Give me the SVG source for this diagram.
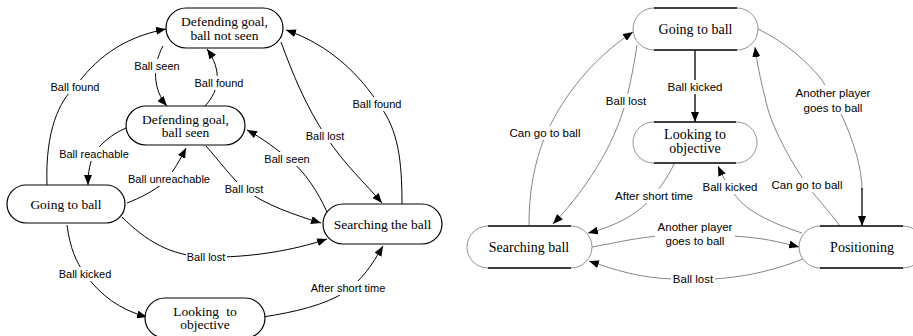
<svg xmlns="http://www.w3.org/2000/svg" width="913" height="336" viewBox="0 0 913 336">
<style>
.nodeL rect{fill:#fff;stroke:#000;stroke-width:1.2}
.nodeR rect{fill:#fff;stroke:#777;stroke-width:0.8}
.nodeR line{stroke:#111;stroke-width:1.3}
.tL{font-family:"Liberation Serif","Times New Roman",serif;font-size:13.5px;fill:#000;text-anchor:middle}
.tR{font-family:"Liberation Serif","Times New Roman",serif;font-size:14px;fill:#000;text-anchor:middle}
.cL{fill:none;stroke:#000;stroke-width:1}
.cR{fill:none;stroke:#666;stroke-width:0.8}
.cB{fill:none;stroke:#000;stroke-width:1.3}
.bg{fill:#fff;stroke:none}
.lL{font-family:"Liberation Sans",Arial,sans-serif;font-size:11px;fill:#000;text-anchor:middle}
.lR{font-family:"Liberation Sans",Arial,sans-serif;font-size:11.5px;fill:#000;text-anchor:middle}
</style>
<defs>
<marker id="arr" viewBox="0 0 10 8" refX="10" refY="4" markerWidth="10" markerHeight="8" markerUnits="userSpaceOnUse" orient="auto">
<path d="M0,0 L10,4 L0,8 z" fill="#000"/>
</marker>
</defs>
<rect width="913" height="336" fill="#fff"/>

<g id="connectors">
<!-- left diagram -->
<path class="cL" d="M47,185 C45,130 60,100 75,87 C95,60 120,38 166,29" marker-end="url(#arr)"/>
<path class="cL" d="M163,46 C152,66 153,90 167,106" marker-end="url(#arr)"/>
<path class="cL" d="M205,106 C220,90 222,70 207,49" marker-end="url(#arr)"/>
<path class="cL" d="M281,42 C292,72 305,105 327,138 C345,165 365,183 382,203" marker-end="url(#arr)"/>
<path class="cL" d="M402,204 C402,160 398,130 380,106 C360,75 330,45 286,30" marker-end="url(#arr)"/>
<path class="cL" d="M327,212 C318,192 305,172 290,160 C278,150 262,138 247,130" marker-end="url(#arr)"/>
<path class="cL" d="M206,146 C220,162 232,178 244,189 C265,205 295,215 321,223" marker-end="url(#arr)"/>
<path class="cL" d="M122,217 C145,240 170,256 206,257 C250,258 295,250 327,239" marker-end="url(#arr)"/>
<path class="cL" d="M67,225 C70,248 76,262 85,274 C100,295 120,310 147,317" marker-end="url(#arr)"/>
<path class="cL" d="M263,317 C295,312 325,305 345,292 C362,280 372,265 383,246" marker-end="url(#arr)"/>
<path class="cL" d="M126,128 C112,134 100,144 94,154 C90,162 88,172 88,185" marker-end="url(#arr)"/>
<path class="cL" d="M127,203 C140,198 152,192 165,182 C173,172 180,160 186,148" marker-end="url(#arr)"/>
<!-- right diagram -->
<path class="cB" d="M695,50 L695,122" marker-end="url(#arr)"/>
<path class="cR" d="M674,164 C668,177 660,188 653,196 C640,212 620,225 588,233" marker-end="url(#arr)"/>
<path class="cR" d="M802,233 C780,226 762,218 748,208 C735,198 726,184 718,166" marker-end="url(#arr)"/>
<path class="cR" d="M840,226 C828,210 815,196 807,185 C790,160 770,125 765,97 C760,78 757,62 755,47" marker-end="url(#arr)"/>
<path class="cR" d="M758,29 C785,42 808,62 822,80 L843,118 C855,145 862,170 862,190"/>
<path class="cB" d="M862,188 L862,226" marker-end="url(#arr)"/>
<path class="cR" d="M529,225 C529,195 533,172 540,150 C555,105 590,60 633,32" marker-end="url(#arr)"/>
<path class="cR" d="M637,45 C634,65 630,85 626,101 C617,135 595,180 553,224" marker-end="url(#arr)"/>
<path class="cR" d="M592,247 C620,242 640,237 660,236 L730,236 C760,237 780,242 799,247" marker-end="url(#arr)"/>
<path class="cR" d="M803,259 C780,268 750,277 713,279 L673,279 C640,278 615,270 589,261" marker-end="url(#arr)"/>

<!-- labels left -->
<rect class="bg" x="48" y="80" width="54" height="14"/>
<text class="lL" x="75" y="91">Ball found</text>
<rect class="bg" x="133" y="59" width="48" height="14"/>
<text class="lL" x="157" y="70">Ball seen</text>
<rect class="bg" x="193" y="76" width="53" height="14"/>
<text class="lL" x="219" y="87">Ball found</text>
<rect class="bg" x="304" y="129" width="42" height="14"/>
<text class="lL" x="325" y="140">Ball lost</text>
<rect class="bg" x="351" y="97" width="53" height="14"/>
<text class="lL" x="377" y="108">Ball found</text>
<rect class="bg" x="263" y="152" width="48" height="14"/>
<text class="lL" x="287" y="163">Ball seen</text>
<rect class="bg" x="224" y="182" width="41" height="14"/>
<text class="lL" x="244" y="193">Ball lost</text>
<rect class="bg" x="186" y="250" width="41" height="14"/>
<text class="lL" x="206" y="261">Ball lost</text>
<rect class="bg" x="58" y="267" width="56" height="14"/>
<text class="lL" x="85" y="278">Ball kicked</text>
<rect class="bg" x="309" y="281" width="78" height="14"/>
<text class="lL" x="348" y="292">After short time</text>
<rect class="bg" x="59" y="147" width="71" height="14"/>
<text class="lL" x="94" y="158">Ball reachable</text>
<rect class="bg" x="126" y="172" width="86" height="14"/>
<text class="lL" x="169" y="183" textLength="82" lengthAdjust="spacingAndGlyphs">Ball unreachable</text>

<!-- labels right -->
<rect class="bg" x="665" y="80" width="60" height="14"/>
<text class="lR" x="695" y="91">Ball kicked</text>
<rect class="bg" x="614" y="189" width="80" height="14"/>
<text class="lR" x="654" y="200">After short time</text>
<rect class="bg" x="701" y="180" width="59" height="14"/>
<text class="lR" x="730" y="191">Ball kicked</text>
<rect class="bg" x="770" y="178" width="75" height="14"/>
<text class="lR" x="807" y="189">Can go to ball</text>
<rect class="bg" x="793" y="85" width="80" height="29"/>
<text class="lR" x="833" y="97">Another player</text>
<text class="lR" x="833" y="112">goes to ball</text>
<rect class="bg" x="508" y="126" width="75" height="14"/>
<text class="lR" x="545" y="137">Can go to ball</text>
<rect class="bg" x="605" y="94" width="43" height="14"/>
<text class="lR" x="626" y="105">Ball lost</text>
<rect class="bg" x="655" y="219" width="80" height="29"/>
<text class="lR" x="695" y="231">Another player</text>
<text class="lR" x="695" y="245">goes to ball</text>
<rect class="bg" x="671" y="272" width="44" height="14"/>
<text class="lR" x="693" y="283">Ball lost</text>
</g>

<!-- left nodes -->
<g id="def-not-seen" class="nodeL">
<rect x="166" y="8" width="117" height="40" rx="20" ry="20"/>
<text class="tL" x="224.5" y="25.5">Defending goal,</text>
<text class="tL" x="224.5" y="39.5">ball not seen</text>
</g>
<g id="def-seen" class="nodeL">
<rect x="126" y="106" width="119" height="39" rx="20" ry="19.5"/>
<text class="tL" x="185.5" y="123.5">Defending goal,</text>
<text class="tL" x="185.5" y="137">ball seen</text>
</g>
<g id="going-left" class="nodeL">
<rect x="7" y="185" width="118" height="38" rx="19" ry="19"/>
<text class="tL" x="66" y="208.5">Going to ball</text>
</g>
<g id="searching-left" class="nodeL">
<rect x="323" y="204" width="119" height="40" rx="20" ry="20"/>
<text class="tL" x="382.5" y="228.5">Searching the ball</text>
</g>
<g id="looking-left" class="nodeL">
<rect x="145" y="298" width="120" height="40" rx="20" ry="20"/>
<text class="tL" x="205" y="315.5" word-spacing="4">Looking to</text>
<text class="tL" x="205" y="329">objective</text>
</g>

<!-- right nodes -->
<g id="going-right" class="nodeR">
<rect x="633" y="8" width="125" height="42" rx="21" ry="21"/>
<line x1="654" y1="8" x2="737" y2="8"/>
<line x1="654" y1="50" x2="737" y2="50"/>
<text class="tR" x="695.5" y="33.5">Going to ball</text>
</g>
<g id="looking-right" class="nodeR">
<rect x="633" y="122" width="124" height="41" rx="20.5" ry="20.5"/>
<line x1="654" y1="122" x2="736" y2="122"/>
<line x1="654" y1="163" x2="736" y2="163"/>
<text class="tR" x="695" y="138.5">Looking to</text>
<text class="tR" x="695" y="152.5">objective</text>
</g>
<g id="searching-right" class="nodeR">
<rect x="467" y="226" width="125" height="42" rx="21" ry="21"/>
<line x1="488" y1="226" x2="571" y2="226"/>
<line x1="488" y1="268" x2="571" y2="268"/>
<text class="tR" x="529" y="251.5">Searching ball</text>
</g>
<g id="positioning" class="nodeR">
<rect x="799" y="226" width="125" height="42" rx="21" ry="21"/>
<line x1="820" y1="226" x2="903" y2="226"/>
<line x1="820" y1="268" x2="903" y2="268"/>
<text class="tR" x="862" y="251.5">Positioning</text>
</g>
</svg>
